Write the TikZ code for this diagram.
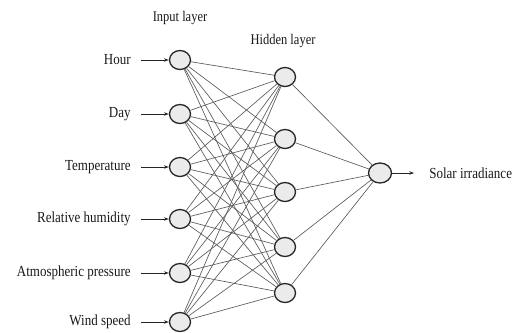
\documentclass[tikz,border=0pt]{standalone}
\usepackage{fontspec}
\setmainfont{Liberation Serif}
\usetikzlibrary{arrows.meta,shapes.geometric}
\begin{document}
\begin{tikzpicture}[x=1pt,y=-1pt,
  neuron/.style={ellipse, draw=black!85, line width=1.3pt, fill=black!8,
    minimum width=21pt, minimum height=19pt, inner sep=0pt},
  wire/.style={draw=black!65, line width=0.65pt},
  feed/.style={draw=black!85, line width=0.8pt, -{Stealth[length=5pt,width=3.5pt]}},
  lbl/.style={font=\fontsize{13}{14}\selectfont, text=black!90, inner sep=0pt},
  ttl/.style={font=\fontsize{12.5}{14}\selectfont, text=black!90, inner sep=0pt}]
\useasboundingbox (0,0) rectangle (516,332);

% input layer
\foreach \n/\y in {1/60, 2/114, 3/167, 4/219, 5/273, 6/322}
  \node[neuron] (i\n) at (180,\y) {};
% hidden layer
\foreach \n/\y in {1/77, 2/139, 3/192, 4/247, 5/293}
  \node[neuron] (h\n) at (285,\y) {};
% output layer
\node[neuron, minimum width=23pt, minimum height=20pt] (o) at (380,173) {};

% full connections
\foreach \a in {1,...,6}
  \foreach \b in {1,...,5}
    \draw[wire] (i\a) -- (h\b);
\foreach \b in {1,...,5}
  \draw[wire] (h\b) -- (o);

% input labels and arrows
\foreach \n/\t in {1/Hour, 2/Day, 3/Temperature, 4/Relative humidity,
                   5/Atmospheric pressure, 6/Wind speed} {
  \coordinate (s\n) at ([xshift=-28pt]i\n.west);
  \node[lbl, anchor=east] (l\n) at ([xshift=-10pt]s\n) {\scalebox{1}[1.18]{\t}};
  \draw[feed] (s\n) -- (i\n.west);
}

% output arrow and label
\coordinate (oe) at ([xshift=22pt]o.east);
\draw[feed] (o.east) -- (oe);
\node[lbl, anchor=west] (ol) at ([xshift=15pt]oe) {\scalebox{1}[1.18]{Solar irradiance}};

% layer titles
\node[ttl] (ti) at (180,18) {\scalebox{1}[1.18]{Input layer}};
\node[ttl] (th) at (283,41) {\scalebox{1}[1.18]{Hidden layer}};
\end{tikzpicture}
\end{document}
